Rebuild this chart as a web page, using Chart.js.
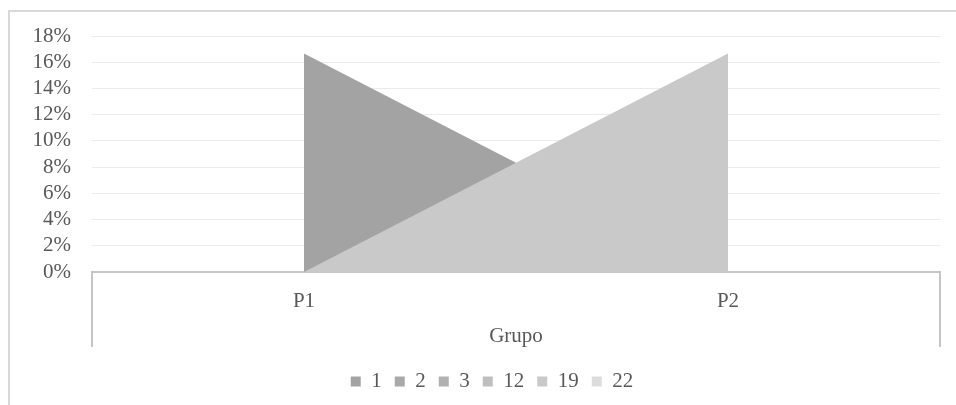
<!DOCTYPE html>
<html>
<head>
<meta charset="utf-8">
<style>
  html, body { margin: 0; padding: 0; background: #ffffff; }
  #wrap { position: relative; width: 956px; height: 405px; }
</style>
<script src="https://cdn.jsdelivr.net/npm/chart.js@4/dist/chart.umd.min.js"></script>
</head>
<body>
<div id="wrap"><canvas id="c" width="956" height="405"></canvas></div>
<script>
// Categories on the x axis and the group that spans them
const categories = ['P1', 'P2'];
const groupLabel = 'Grupo';

// Series names (legend) and their share per category
const seriesNames = ['1', '2', '3', '12', '19', '22'];
const s1  = [0.1667, 0];
const s2  = [0, 0];
const s3  = [0, 0];
const s12 = [0, 0];
const s19 = [0, 0.1667];
const s22 = [0, 0];
const seriesValues = [s1, s2, s3, s12, s19, s22];

// Y axis ticks
const yTicks = [0, 0.02, 0.04, 0.06, 0.08, 0.10, 0.12, 0.14, 0.16, 0.18];

const colors = ['#a3a3a3', '#a9a9a9', '#b1b1b1', '#bebebe', '#c9c9c9', '#dcdcdc'];
const textColor = '#595959';
const fontFamily = '"Liberation Serif", "Times New Roman", serif';
const fontSize = 21;

const datasets = seriesNames.map((name, i) => ({
  label: name,
  data: seriesValues[i],
  backgroundColor: colors[i],
  borderColor: colors[i],
  borderWidth: 0,
  pointRadius: 0,
  fill: 'origin',
  tension: 0,
  // later series sit in front of earlier ones
  order: seriesNames.length - i
}));

// Outer frame plus the bracket lines of the grouped category axis
const framePlugin = {
  id: 'frame',
  afterLayout(chart) {
    // centre the legend under the plot area
    const legend = chart.legend;
    if (legend) {
      legend.left += 22;
      legend.right += 22;
    }
  },
  afterDraw(chart) {
    const ctx = chart.ctx;
    const area = chart.chartArea;
    ctx.save();
    ctx.strokeStyle = '#d9d9d9';
    ctx.lineWidth = 2;
    ctx.beginPath();
    ctx.moveTo(9, 405);
    ctx.lineTo(9, 11);
    ctx.lineTo(956, 11);
    ctx.stroke();

    ctx.strokeStyle = '#c4c4c4';
    ctx.lineWidth = 2;
    ctx.beginPath();
    ctx.moveTo(area.left, area.bottom);
    ctx.lineTo(area.left, 347);
    ctx.moveTo(area.right, area.bottom);
    ctx.lineTo(area.right, 347);
    ctx.stroke();
    ctx.restore();
  }
};

new Chart(document.getElementById('c'), {
  type: 'line',
  data: { labels: categories, datasets },
  plugins: [framePlugin],
  options: {
    responsive: false,
    animation: false,
    layout: { padding: { top: 36, right: 16, bottom: 3, left: 0 } },
    plugins: {
      tooltip: { enabled: false },
      legend: {
        position: 'bottom',
        labels: {
          boxWidth: 10,
          boxHeight: 10,
          padding: 13,
          color: textColor,
          font: { family: fontFamily, size: fontSize },
          sort: (a, b) => a.datasetIndex - b.datasetIndex
        }
      }
    },
    scales: {
      x: {
        type: 'category',
        offset: true,
        grid: { display: false, drawTicks: false },
        border: { display: true, color: '#c4c4c4', width: 2 },
        ticks: {
          color: textColor,
          padding: 17,
          maxRotation: 0,
          font: { family: fontFamily, size: fontSize }
        },
        title: {
          display: true,
          text: groupLabel,
          color: textColor,
          font: { family: fontFamily, size: fontSize },
          padding: { top: 6, bottom: 9 }
        },
        afterFit(scale) { scale.height = 86; }
      },
      y: {
        min: 0,
        max: 0.18,
        grid: { color: '#ebebeb', lineWidth: 1, drawTicks: false },
        border: { display: false },
        afterBuildTicks(scale) { scale.ticks = yTicks.map(v => ({ value: v })); },
        ticks: {
          autoSkip: false,
          color: textColor,
          padding: 21,
          font: { family: fontFamily, size: fontSize },
          callback: v => Math.round(v * 100) + '%'
        },
        afterFit(scale) { scale.width = 92; }
      }
    }
  }
});
</script>
</body>
</html>
